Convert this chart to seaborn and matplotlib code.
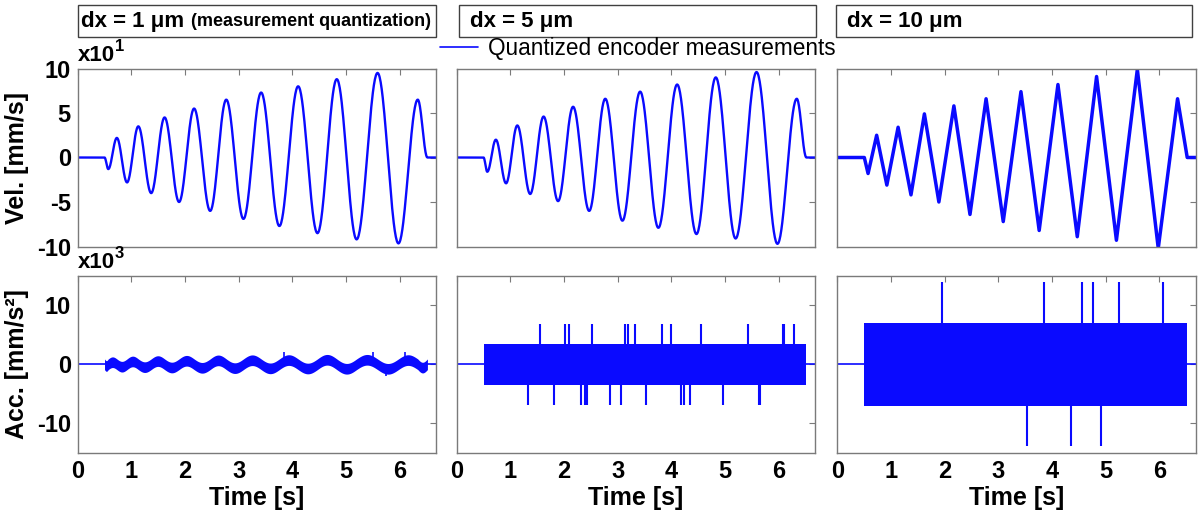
import numpy as np
import pandas as pd
import matplotlib
matplotlib.use("Agg")
import matplotlib.pyplot as plt
import seaborn as sns
from matplotlib.patches import Rectangle
from matplotlib.lines import Line2D

sns.set_theme(style="white")
plt.rcParams["font.family"] = ["Liberation Sans", "DejaVu Sans"]
plt.rcParams["text.color"] = "black"
plt.rcParams["axes.labelcolor"] = "black"
plt.rcParams["xtick.color"] = "black"
plt.rcParams["ytick.color"] = "black"

# ---------------- data ----------------
panel_titles = ["dx = 1 \u03bcm", "dx = 5 \u03bcm", "dx = 10 \u03bcm"]
title_note = "(measurement quantization)"
legend_label = "Quantized encoder measurements"

# times of the velocity extrema [s] (flat start/end included)
ext_t = [0.0, 0.50, 0.57, 0.73, 0.92, 1.13, 1.37, 1.62, 1.89, 2.17, 2.47,
         2.77, 3.09, 3.42, 3.76, 4.11, 4.47, 4.83, 5.20, 5.59, 5.98, 6.34,
         6.52, 6.68]
# velocity extrema [x10 mm/s]
vel_dx1 = [0, 0, -1.3, 2.2, -2.8, 3.5, -4.0, 4.5, -5.0, 5.5, -6.0, 6.5,
           -6.9, 7.3, -7.7, 8.0, -8.5, 8.8, -9.2, 9.5, -9.65, 6.5, 0, 0]
vel_dx5 = [0, 0, -1.6, 2.0, -2.9, 3.6, -4.1, 4.6, -4.9, 5.7, -6.0, 6.6,
           -7.1, 7.4, -7.9, 8.2, -8.6, 9.0, -9.1, 9.6, -9.7, 6.6, 0, 0]
vel_dx10 = [0, 0, -1.8, 2.5, -3.1, 3.4, -4.2, 4.9, -5.0, 5.8, -6.4, 6.6,
            -7.2, 7.4, -8.2, 8.2, -8.9, 9.1, -9.3, 9.9, -10.2, 6.6, 0, 0]

motion_start, motion_end, t_end = 0.50, 6.52, 6.68

# acceleration [x10^3 mm/s^2]
acc_noise_dx1 = 0.9                        # half width of noise band, dx = 1
acc_spikes_dx1_t = [3.85, 5.50, 6.10]
acc_spikes_dx1_v = [2.0, 2.0, 2.0]
acc_spikes_dx1_dn_t = [5.75]
acc_spikes_dx1_dn_v = [-2.0]

acc_band = [None, 3.45, 7.0]               # quantization band half width
acc_spike = [None, 6.85, 13.9]             # spike height
acc_up_t = [None,
            [1.56, 2.02, 2.09, 2.52, 3.14, 3.20, 3.33, 3.82, 4.00, 4.56, 5.44, 6.08, 6.10, 6.28],
            [1.94, 3.85, 4.55, 4.77, 5.25, 6.07]]
acc_dn_t = [None,
            [1.32, 1.81, 2.31, 2.39, 2.42, 2.86, 3.07, 3.52, 4.19, 4.24, 4.35, 4.96, 5.63, 5.66],
            [3.54, 4.35, 4.91]]

vel_ticks = [-10, -5, 0, 5, 10]
acc_ticks = [-10, 0, 10]
time_ticks = [0, 1, 2, 3, 4, 5, 6]

# ---------------- helpers ----------------
def smooth_curve(tk, vk, n=40):
    ts, vs = [], []
    for i in range(len(tk) - 1):
        s = np.linspace(0, 1, n, endpoint=False)
        ts.append(tk[i] + (tk[i + 1] - tk[i]) * s)
        vs.append(vk[i] + (vk[i + 1] - vk[i]) * (1 - np.cos(np.pi * s)) / 2)
    ts.append([tk[-1]]); vs.append([vk[-1]])
    return np.concatenate(ts), np.concatenate(vs)

BLUE = "#0a0aff"
GRAY = "#7a7a7a"
W, H = 1201, 519
fig = plt.figure(figsize=(W / 100, H / 100), dpi=100)

col_left = [77.7, 456.7, 837.5]
ax_w = 358.3
top_y0, top_y1 = 68.5, 246.5
bot_y0, bot_y1 = 275.5, 453.0
TICK_FS = 17
LABEL_FS = 18

def add_ax(xl, y0, y1):
    return fig.add_axes([xl / W, 1 - y1 / H, ax_w / W, (y1 - y0) / H])

def style(ax):
    for sp in ax.spines.values():
        sp.set_color(GRAY)
        sp.set_linewidth(1.0)
        sp.set_visible(True)
    ax.tick_params(direction="in", top=True, right=True, length=4, width=0.8,
                   color=GRAY, labelsize=TICK_FS, pad=5, labelcolor="black")
    for lab in ax.get_xticklabels() + ax.get_yticklabels():
        lab.set_fontweight("bold")
        lab.set_color("black")

def scale_label(ax, exp):
    t = ax.text(0.0, 1.015, "x10", transform=ax.transAxes, fontsize=16,
                fontweight="bold", ha="left", va="bottom", color="black")
    ax.annotate(exp, xy=(1.0, 0.55), xycoords=t, fontsize=12,
                fontweight="bold", ha="left", va="bottom", color="black")

vel_sets = [vel_dx1, vel_dx5, vel_dx10]

for c in range(3):
    # ---- velocity row ----
    ax = add_ax(col_left[c], top_y0, top_y1)
    if c < 2:
        tt, vv = smooth_curve(ext_t, vel_sets[c])
        lw = 1.7
    else:
        tt, vv = np.array(ext_t), np.array(vel_sets[c])
        lw = 2.5
    df = pd.DataFrame({"t": tt, "v": vv})
    sns.lineplot(data=df, x="t", y="v", ax=ax, color=BLUE, lw=lw,
                 estimator=None, sort=False, legend=False)
    ax.set_xlim(0, t_end)
    ax.set_ylim(-10, 10)
    ax.set_xticks(time_ticks)
    ax.set_xticklabels([])
    ax.set_yticks(vel_ticks)
    ax.set_xlabel("")
    ax.set_ylabel("")
    if c == 0:
        ax.set_yticklabels([str(v) for v in vel_ticks])
        scale_label(ax, "1")
        ax.set_ylabel("Vel. [mm/s]", fontsize=LABEL_FS, fontweight="bold",
                      color="black")
        ax.yaxis.set_label_coords(-0.135, 0.5)
    else:
        ax.set_yticklabels([])
    style(ax)

    # ---- acceleration row ----
    ax2 = add_ax(col_left[c], bot_y0, bot_y1)
    if c == 0:
        t1, v1 = smooth_curve(ext_t, vel_dx1, n=80)
        a_center = np.gradient(np.array(v1) * 10.0, t1) / 1000.0
        m = (t1 >= motion_start) & (t1 <= motion_end)
        ax2.fill_between(t1[m], a_center[m] - acc_noise_dx1,
                         a_center[m] + acc_noise_dx1, color=BLUE, lw=0)
        ax2.vlines(acc_spikes_dx1_t, 0, acc_spikes_dx1_v, color=BLUE, lw=1.2)
        ax2.vlines(acc_spikes_dx1_dn_t, 0, acc_spikes_dx1_dn_v, color=BLUE, lw=1.2)
    else:
        b = acc_band[c]
        ax2.fill_between([motion_start, motion_end], [-b, -b], [b, b],
                         color=BLUE, lw=0)
        ax2.vlines(acc_up_t[c], 0, acc_spike[c], color=BLUE, lw=1.5)
        ax2.vlines(acc_dn_t[c], -acc_spike[c], 0, color=BLUE, lw=1.5)
    zl = pd.DataFrame({"t": [0, motion_start, np.nan, motion_end, t_end],
                       "a": [0, 0, np.nan, 0, 0]})
    ax2.plot(zl["t"], zl["a"], color=BLUE, lw=1.2)
    ax2.set_xlim(0, t_end)
    ax2.set_ylim(-15, 15)
    ax2.set_xticks(time_ticks)
    ax2.set_xticklabels([str(v) for v in time_ticks])
    ax2.set_yticks(acc_ticks)
    ax2.set_xlabel("Time [s]", fontsize=LABEL_FS, fontweight="bold",
                   labelpad=2, color="black")
    if c == 0:
        ax2.set_yticklabels([str(v) for v in acc_ticks])
        scale_label(ax2, "3")
        ax2.set_ylabel("Acc. [mm/s\u00b2]", fontsize=LABEL_FS,
                       fontweight="bold", color="black")
        ax2.yaxis.set_label_coords(-0.135, 0.5)
    else:
        ax2.set_yticklabels([])
        ax2.set_ylabel("")
    style(ax2)

# ---------------- title boxes ----------------
box_x = [(77.7, 435.7), (459.0, 816.0), (835.7, 1191.7)]
text_x = [81.0, 470.0, 846.7]
by0, by1 = 5.0, 36.5
for c in range(3):
    x0, x1 = box_x[c]
    fig.patches.append(Rectangle((x0 / W, 1 - by1 / H), (x1 - x0) / W,
                                 (by1 - by0) / H, transform=fig.transFigure,
                                 fill=False, edgecolor="#404040", lw=1.0))
    fig.text(text_x[c] / W, 1 - 21.0 / H, panel_titles[c], fontsize=16,
             fontweight="bold", ha="left", va="center", color="black")
    if c == 0:
        fig.text(191.0 / W, 1 - 22.0 / H, title_note, fontsize=13,
                 fontweight="bold", ha="left", va="center", color="black")

# ---------------- legend ----------------
handle = Line2D([], [], color=BLUE, lw=1.2)
leg = fig.legend(handles=[handle], labels=[legend_label], loc="center left",
                 bbox_to_anchor=(440 / W, 1 - 48 / H), frameon=False,
                 fontsize=16.3, handlelength=1.7, handletextpad=0.4,
                 borderpad=0, borderaxespad=0)
for txt in leg.get_texts():
    txt.set_color("black")

fig.savefig("out.png", dpi=100)
